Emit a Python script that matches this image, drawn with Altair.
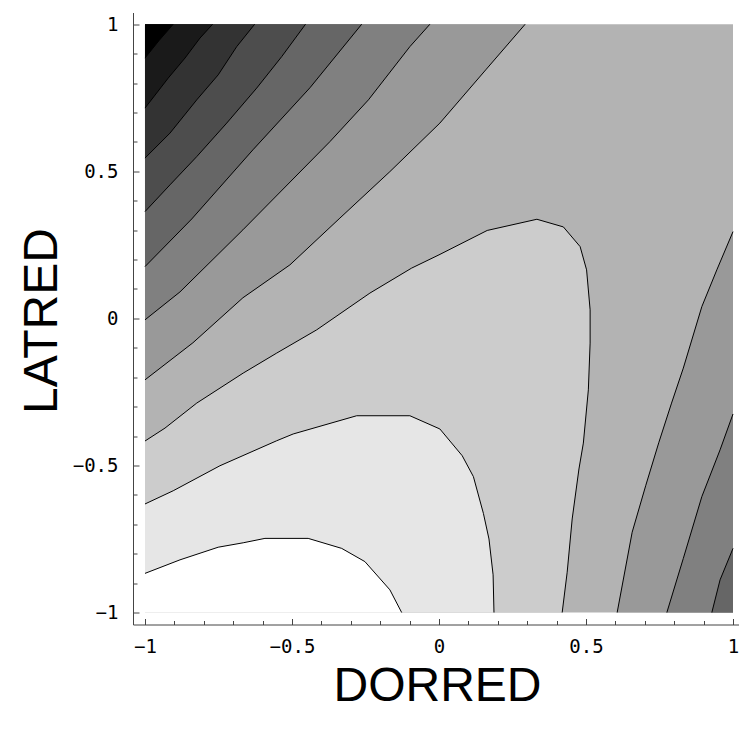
import altair as alt
import pandas as pd

# ---------------- axes ----------------
X_DOMAIN = [-1.0408, 1.0204]
Y_DOMAIN = [-1.0408, 1.0400]
MAJOR_TICKS = [-1.0, -0.5, 0.0, 0.5, 1.0]
MINOR_TICKS = [-0.9, -0.8, -0.7, -0.6, -0.4, -0.3, -0.2, -0.1,
               0.1, 0.2, 0.3, 0.4, 0.6, 0.7, 0.8, 0.9]

# ---------------- contour lines (x = DORRED, y = LATRED) ----------------
# top-left family (level boundaries, from darkest to lighter)
A_x = [-1.0, -0.952, -0.904]
A_y = [0.885, 0.945, 1.0]
B_x = [-1.0, -0.921, -0.864, -0.813, -0.770]
B_y = [0.715, 0.817, 0.885, 0.953, 1.0]
C_x = [-1.0, -0.915, -0.824, -0.751, -0.688, -0.627]
C_y = [0.545, 0.630, 0.743, 0.828, 0.924, 1.0]
D_x = [-1.0, -0.915, -0.824, -0.722, -0.620, -0.535, -0.454]
D_y = [0.363, 0.454, 0.550, 0.664, 0.783, 0.890, 1.0]
E_x = [-1.0, -0.841, -0.633, -0.439, -0.263]
E_y = [0.176, 0.338, 0.573, 0.784, 1.0]
F_x = [-1.0, -0.881, -0.667, -0.371, -0.240, -0.099, -0.031]
F_y = [-0.005, 0.090, 0.301, 0.601, 0.743, 0.924, 1.0]
G_x = [-1.0, -0.837, -0.667, -0.507, -0.337, -0.167, 0.003, 0.159, 0.293]
G_y = [-0.209, -0.083, 0.070, 0.182, 0.341, 0.499, 0.664, 0.845, 1.0]

# right-hand branches
GR_x = [1.0, 0.945, 0.894, 0.831, 0.791, 0.748, 0.703, 0.657, 0.606]
GR_y = [0.295, 0.165, 0.040, -0.169, -0.288, -0.421, -0.569, -0.727, -1.0]
FR_x = [1.0, 0.956, 0.894, 0.831, 0.775]
FR_y = [-0.325, -0.447, -0.606, -0.816, -1.0]
ER_x = [1.0, 0.956, 0.928]
ER_y = [-0.782, -0.889, -1.0]

# bottom-left family
L3_x = [-1.0, -0.932, -0.824, -0.666, -0.552, -0.416, -0.235, -0.093, 0.0, 0.164, 0.333,
        0.423, 0.480, 0.502, 0.514, 0.514, 0.508, 0.491, 0.476, 0.453, 0.436, 0.419]
L3_y = [-0.417, -0.373, -0.288, -0.186, -0.118, -0.039, 0.086, 0.171, 0.216, 0.299, 0.337,
        0.311, 0.244, 0.165, 0.029, -0.084, -0.243, -0.424, -0.512, -0.682, -0.863, -1.0]
L2_x = [-1.0, -0.904, -0.745, -0.552, -0.496, -0.280, -0.099, 0.003, 0.079, 0.117, 0.151,
        0.170, 0.184, 0.187]
L2_y = [-0.631, -0.586, -0.501, -0.416, -0.393, -0.331, -0.331, -0.376, -0.467, -0.538,
        -0.663, -0.750, -0.872, -1.0]
L1_x = [-1.0, -0.881, -0.751, -0.666, -0.592, -0.445, -0.331, -0.252, -0.167, -0.127]
L1_y = [-0.867, -0.821, -0.778, -0.763, -0.748, -0.748, -0.782, -0.827, -0.923, -1.0]

# plotting square and the gray shades of the bands
SQUARE_X = [-1.0, 1.0, 1.0, -1.0]
SQUARE_Y = [-1.0, -1.0, 1.0, 1.0]
BASE_SHADE = "#b3b3b3"

# (line, corner that closes the band, shade of the band between line and corner), painted in order
BANDS = [
    (G_x, G_y, (-1.0, 1.0), "#999999"),
    (F_x, F_y, (-1.0, 1.0), "#808080"),
    (E_x, E_y, (-1.0, 1.0), "#666666"),
    (D_x, D_y, (-1.0, 1.0), "#4d4d4d"),
    (C_x, C_y, (-1.0, 1.0), "#333333"),
    (B_x, B_y, (-1.0, 1.0), "#1a1a1a"),
    (A_x, A_y, (-1.0, 1.0), "#000000"),
    (GR_x, GR_y, (1.0, -1.0), "#999999"),
    (FR_x, FR_y, (1.0, -1.0), "#808080"),
    (ER_x, ER_y, (1.0, -1.0), "#666666"),
    (L3_x, L3_y, (-1.0, -1.0), "#cccccc"),
    (L2_x, L2_y, (-1.0, -1.0), "#e6e6e6"),
    (L1_x, L1_y, (-1.0, -1.0), "#ffffff"),
]
LINES = [(A_x, A_y), (B_x, B_y), (C_x, C_y), (D_x, D_y), (E_x, E_y), (F_x, F_y), (G_x, G_y),
         (GR_x, GR_y), (FR_x, FR_y), (ER_x, ER_y), (L3_x, L3_y), (L2_x, L2_y), (L1_x, L1_y)]

AXIS_COLOR = "#444444"

main_common = dict(
    values=MAJOR_TICKS, format="~g", ticks=False, tickSize=0,
    labelFont="DejaVu Sans Mono", labelFontSize=19,
    labelColor="black", labelOverlap=False, labelFlush=False,
    domainColor=AXIS_COLOR, domainWidth=1, grid=False,
    titleFont="Liberation Sans", titleFontSize=48, titleFontWeight="normal",
    titleColor="black", titleAlign="center", titleBaseline="middle",
)
x_main = alt.Axis(orient="bottom", title="DORRED", titleX=304, titleY=62, labelPadding=13,
                  **main_common)
y_main = alt.Axis(orient="left", title="LATRED", titleAngle=270, titleX=-91, titleY=308,
                  labelPadding=15, **main_common)


def tick_axis(orient, values, length):
    return alt.Axis(orient=orient, values=values, offset=-length, tickSize=length,
                    ticks=True, tickColor=AXIS_COLOR, tickWidth=1, labels=False,
                    domain=False, grid=False, title=None)


def frame(xv, yv):
    return pd.DataFrame({"x": list(xv), "y": list(yv), "i": list(range(len(xv)))})


def enc(chart, xaxis=None, yaxis=None):
    return chart.encode(
        x=alt.X("x:Q", scale=alt.Scale(domain=X_DOMAIN, nice=False, zero=False), axis=xaxis),
        y=alt.Y("y:Q", scale=alt.Scale(domain=Y_DOMAIN, nice=False, zero=False), axis=yaxis),
        order=alt.Order("i:Q"),
    )


square = frame(SQUARE_X, SQUARE_Y)
layers = [enc(alt.Chart(square).mark_line(fill=BASE_SHADE, strokeOpacity=0, strokeWidth=0),
              x_main, y_main)]

for lx, ly, corner, shade in BANDS:
    layers.append(enc(alt.Chart(frame(lx + [corner[0]], ly + [corner[1]])).mark_line(
        fill=shade, strokeOpacity=0, strokeWidth=0)))

for lx, ly in LINES:
    layers.append(enc(alt.Chart(frame(lx, ly)).mark_line(color="black", strokeWidth=1)))

# inward-pointing major and minor ticks
layers.append(enc(alt.Chart(square).mark_point(opacity=0),
                  tick_axis("bottom", MAJOR_TICKS, 6), tick_axis("left", MAJOR_TICKS, 6)))
layers.append(enc(alt.Chart(square).mark_point(opacity=0),
                  tick_axis("bottom", MINOR_TICKS, 4), tick_axis("left", MINOR_TICKS, 4)))

chart = alt.layer(*layers).resolve_scale(x="independent", y="independent").properties(
    width=606, height=612,
    autosize=alt.AutoSizeParams(type="none"),
    padding={"left": 133, "top": 12.5, "right": 0, "bottom": 100},
).configure(background="white").configure_view(stroke=None)

chart.save("out.html", embed_options={"renderer": "svg", "actions": False})
